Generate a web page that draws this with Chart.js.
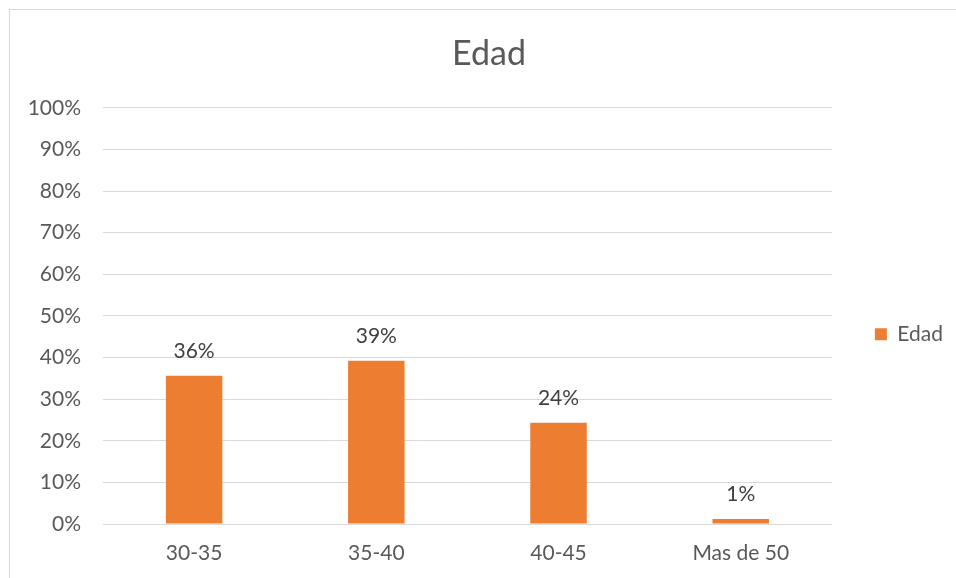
<!DOCTYPE html>
<html>
<head>
<meta charset="utf-8">
<script src="https://cdn.jsdelivr.net/npm/chart.js@4.4.1/dist/chart.umd.min.js"></script>
<style>
    html, body { margin: 0; padding: 0; background: #fff; overflow: hidden; }
    #wrap { position: relative; width: 956px; height: 578px; }
    #frame {
        position: absolute; left: 9px; top: 9px; width: 1000px; height: 1000px;
        border: 1px solid #d9d9d9; pointer-events: none;
    }
</style>
</head>
<body>
<div id="wrap">
    <canvas id="chart" width="956" height="578"></canvas>
    <div id="frame"></div>
</div>
<script>
const categories = ['30-35', '35-40', '40-45', 'Mas de 50'];
const edadValues = [0.356, 0.392, 0.243, 0.012];
const yTicks = [0, 0.1, 0.2, 0.3, 0.4, 0.5, 0.6, 0.7, 0.8, 0.9, 1];

const barLabels = {
    id: 'barLabels',
    afterDatasetsDraw(chart) {
        const ctx = chart.ctx;
        const meta = chart.getDatasetMeta(0);
        ctx.save();
        ctx.font = '21px Lato';
        ctx.fillStyle = '#404040';
        ctx.textAlign = 'center';
        ctx.textBaseline = 'middle';
        meta.data.forEach((bar, i) => {
            const text = Math.round(edadValues[i] * 100) + '%';
            ctx.fillText(text, bar.x, bar.y - 25);
        });
        ctx.restore();
    }
};

new Chart(document.getElementById('chart'), {
    type: 'bar',
    data: {
        labels: categories,
        datasets: [{
            label: 'Edad',
            data: edadValues,
            backgroundColor: '#ED7D31',
            borderWidth: 0,
            categoryPercentage: 1,
            barPercentage: 0.31
        }]
    },
    options: {
        responsive: false,
        animation: false,
        layout: { padding: { left: 25, right: 3, top: 0, bottom: 0 } },
        plugins: {
            title: {
                display: true,
                text: 'Edad',
                color: '#595959',
                font: { family: 'Lato', size: 34, weight: 'normal' },
                padding: { top: 34, bottom: 33 }
            },
            legend: {
                position: 'right',
                // empty legend title only pushes the single entry down
                title: { display: true, text: '', font: { size: 12 }, padding: 38 },
                labels: {
                    color: '#595959',
                    font: { family: 'Lato', size: 21 },
                    boxWidth: 12,
                    boxHeight: 12,
                    padding: 43
                }
            },
            tooltip: { enabled: false }
        },
        scales: {
            x: {
                grid: { display: false, drawTicks: false },
                border: { color: '#d9d9d9', width: 1 },
                ticks: { color: '#595959', font: { family: 'Lato', size: 21 }, padding: 17 },
                afterFit(scale) { scale.height = 54; }
            },
            y: {
                min: 0,
                max: 1,
                afterBuildTicks(scale) { scale.ticks = yTicks.map(v => ({ value: v })); },
                grid: { color: '#d9d9d9', lineWidth: 1, drawTicks: false },
                border: { display: false },
                ticks: {
                    color: '#595959',
                    font: { family: 'Lato', size: 21 },
                    padding: 22,
                    callback: v => Math.round(v * 100) + '%'
                },
                afterFit(scale) { scale.width = 78; }
            }
        }
    },
    plugins: [barLabels]
});
</script>
</body>
</html>
